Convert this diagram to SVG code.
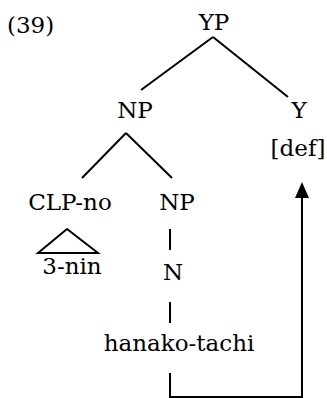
<svg xmlns="http://www.w3.org/2000/svg" width="327" height="398" viewBox="0 0 327 398">
<style>
text{font-family:"DejaVu Serif","Liberation Serif",serif;font-size:23px;fill:#000;text-anchor:middle}
.l{stroke:#000;stroke-width:2;fill:none}
</style>
<rect width="327" height="398" fill="#fff"/>
<text x="7" y="33" style="text-anchor:start">(39)</text>
<g id="YP"><text x="214" y="30">YP</text></g>
<g id="NP"><text x="135" y="118">NP</text></g>
<g id="Y"><text x="299" y="118">Y</text><text x="298" y="156">[def]</text></g>
<g id="CLP-no"><text x="70" y="210">CLP-no</text></g>
<g id="NP2"><text x="177" y="210">NP</text></g>
<g id="three-nin"><text x="72" y="274">3-nin</text></g>
<g id="N"><text x="173" y="280">N</text></g>
<g id="hanako-tachi"><text x="179" y="351">hanako-tachi</text></g>
<g id="connectors">
<path class="l" d="M213,37 L141,90 M213,37 L288,97"/>
<path class="l" d="M126,133 L82,178 M126,133 L172,178"/>
<path class="l" d="M67,229 L38,253 L98,253 Z"/>
<path class="l" d="M170,229 V250 M170,302 V323"/>
<path class="l" d="M170,373 V397 H302 V198"/>
<path d="M302,182 L295,198 L309,198 Z" fill="#000"/>
</g>
</svg>
